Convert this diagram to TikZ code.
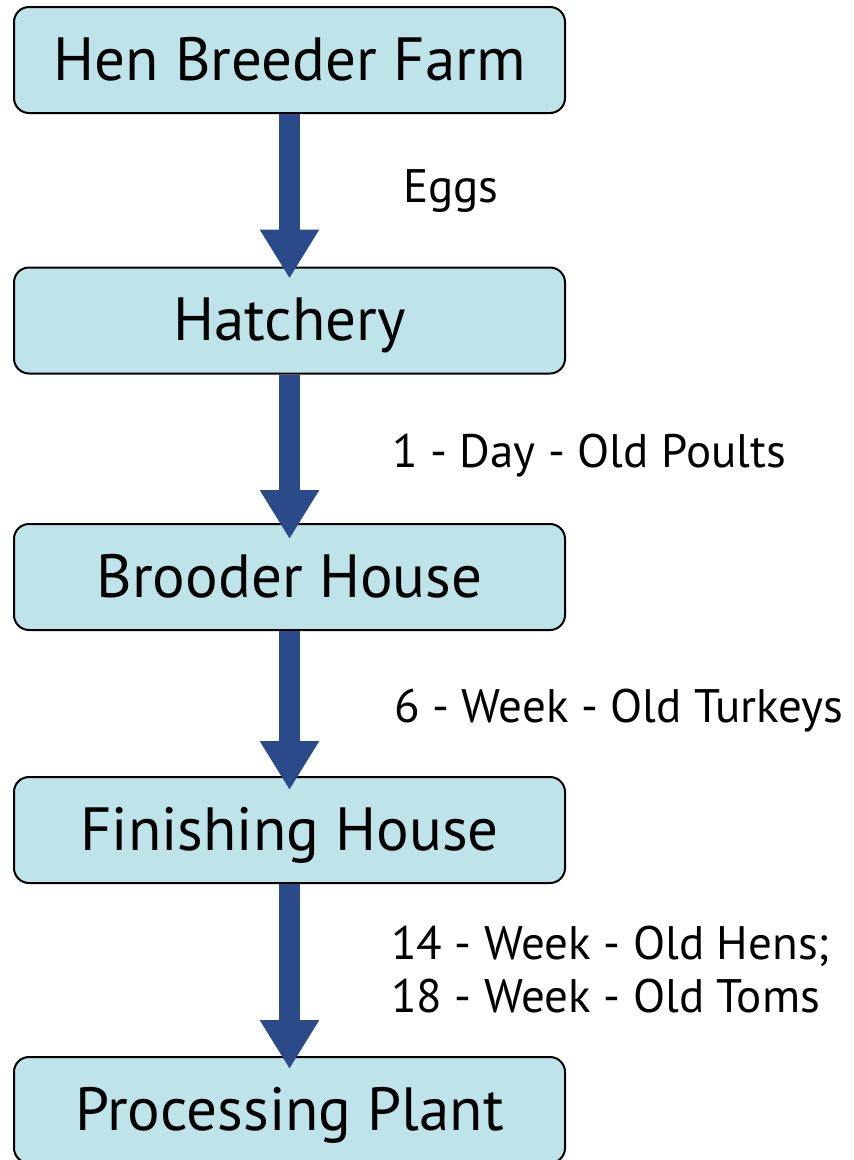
\documentclass[tikz,border=0pt]{standalone}
\usepackage{fontspec}
\setmainfont{PT Sans}
\usetikzlibrary{arrows.meta,calc}
\definecolor{boxfill}{HTML}{BEE4EA}
\definecolor{arrowblue}{HTML}{2B4A8A}
\tikzset{
  stagebox/.style={draw=black, line width=2pt, fill=boxfill, rounded corners=15pt,
    minimum width=551pt, minimum height=106pt, inner sep=0pt,
    text height=40pt, text depth=0pt,
    font=\fontsize{61}{72}\selectfont},
  flowarrow/.style={draw=arrowblue, line width=21pt,
    -{Triangle[length=49pt,width=56pt]}},
  flowlabel/.style={anchor=base west, inner sep=0pt,
    font=\fontsize{47}{53}\selectfont, align=left}
}
\begin{document}
\begin{tikzpicture}[x=1pt,y=-1pt]
\useasboundingbox (0,0) rectangle (854,1160);
\node[stagebox] (b1) at (289.5,60) {Hen Breeder Farm};
\node[stagebox] (b2) at (289.5,320.5) {Hatchery};
\node[stagebox] (b3) at (289.5,577) {Brooder House};
\node[stagebox] (b4) at (289.5,830) {Finishing House};
\node[stagebox] (b5) at (289.5,1110) {Processing Plant};
\coordinate (t2) at ($(b2.north)+(0,12)$);
\coordinate (t3) at ($(b3.north)+(0,16)$);
\coordinate (t4) at ($(b4.north)+(0,14)$);
\coordinate (t5) at ($(b5.north)+(0,13)$);
\draw[flowarrow] (b1.south) -- (t2);
\draw[flowarrow] (b2.south) -- (t3);
\draw[flowarrow] (b3.south) -- (t4);
\draw[flowarrow] (b4.south) -- (t5);
\node[flowlabel] (l1) at (403,202) {Eggs};
\node[flowlabel] (l2) at (392,467) {1 - Day - Old Poults};
\node[flowlabel] (l3) at (394,722) {6 - Week - Old Turkeys};
\node[flowlabel, anchor=north west] (l4) at (391,926) {14 - Week - Old Hens;\\18 - Week - Old Toms};
\end{tikzpicture}
\end{document}
